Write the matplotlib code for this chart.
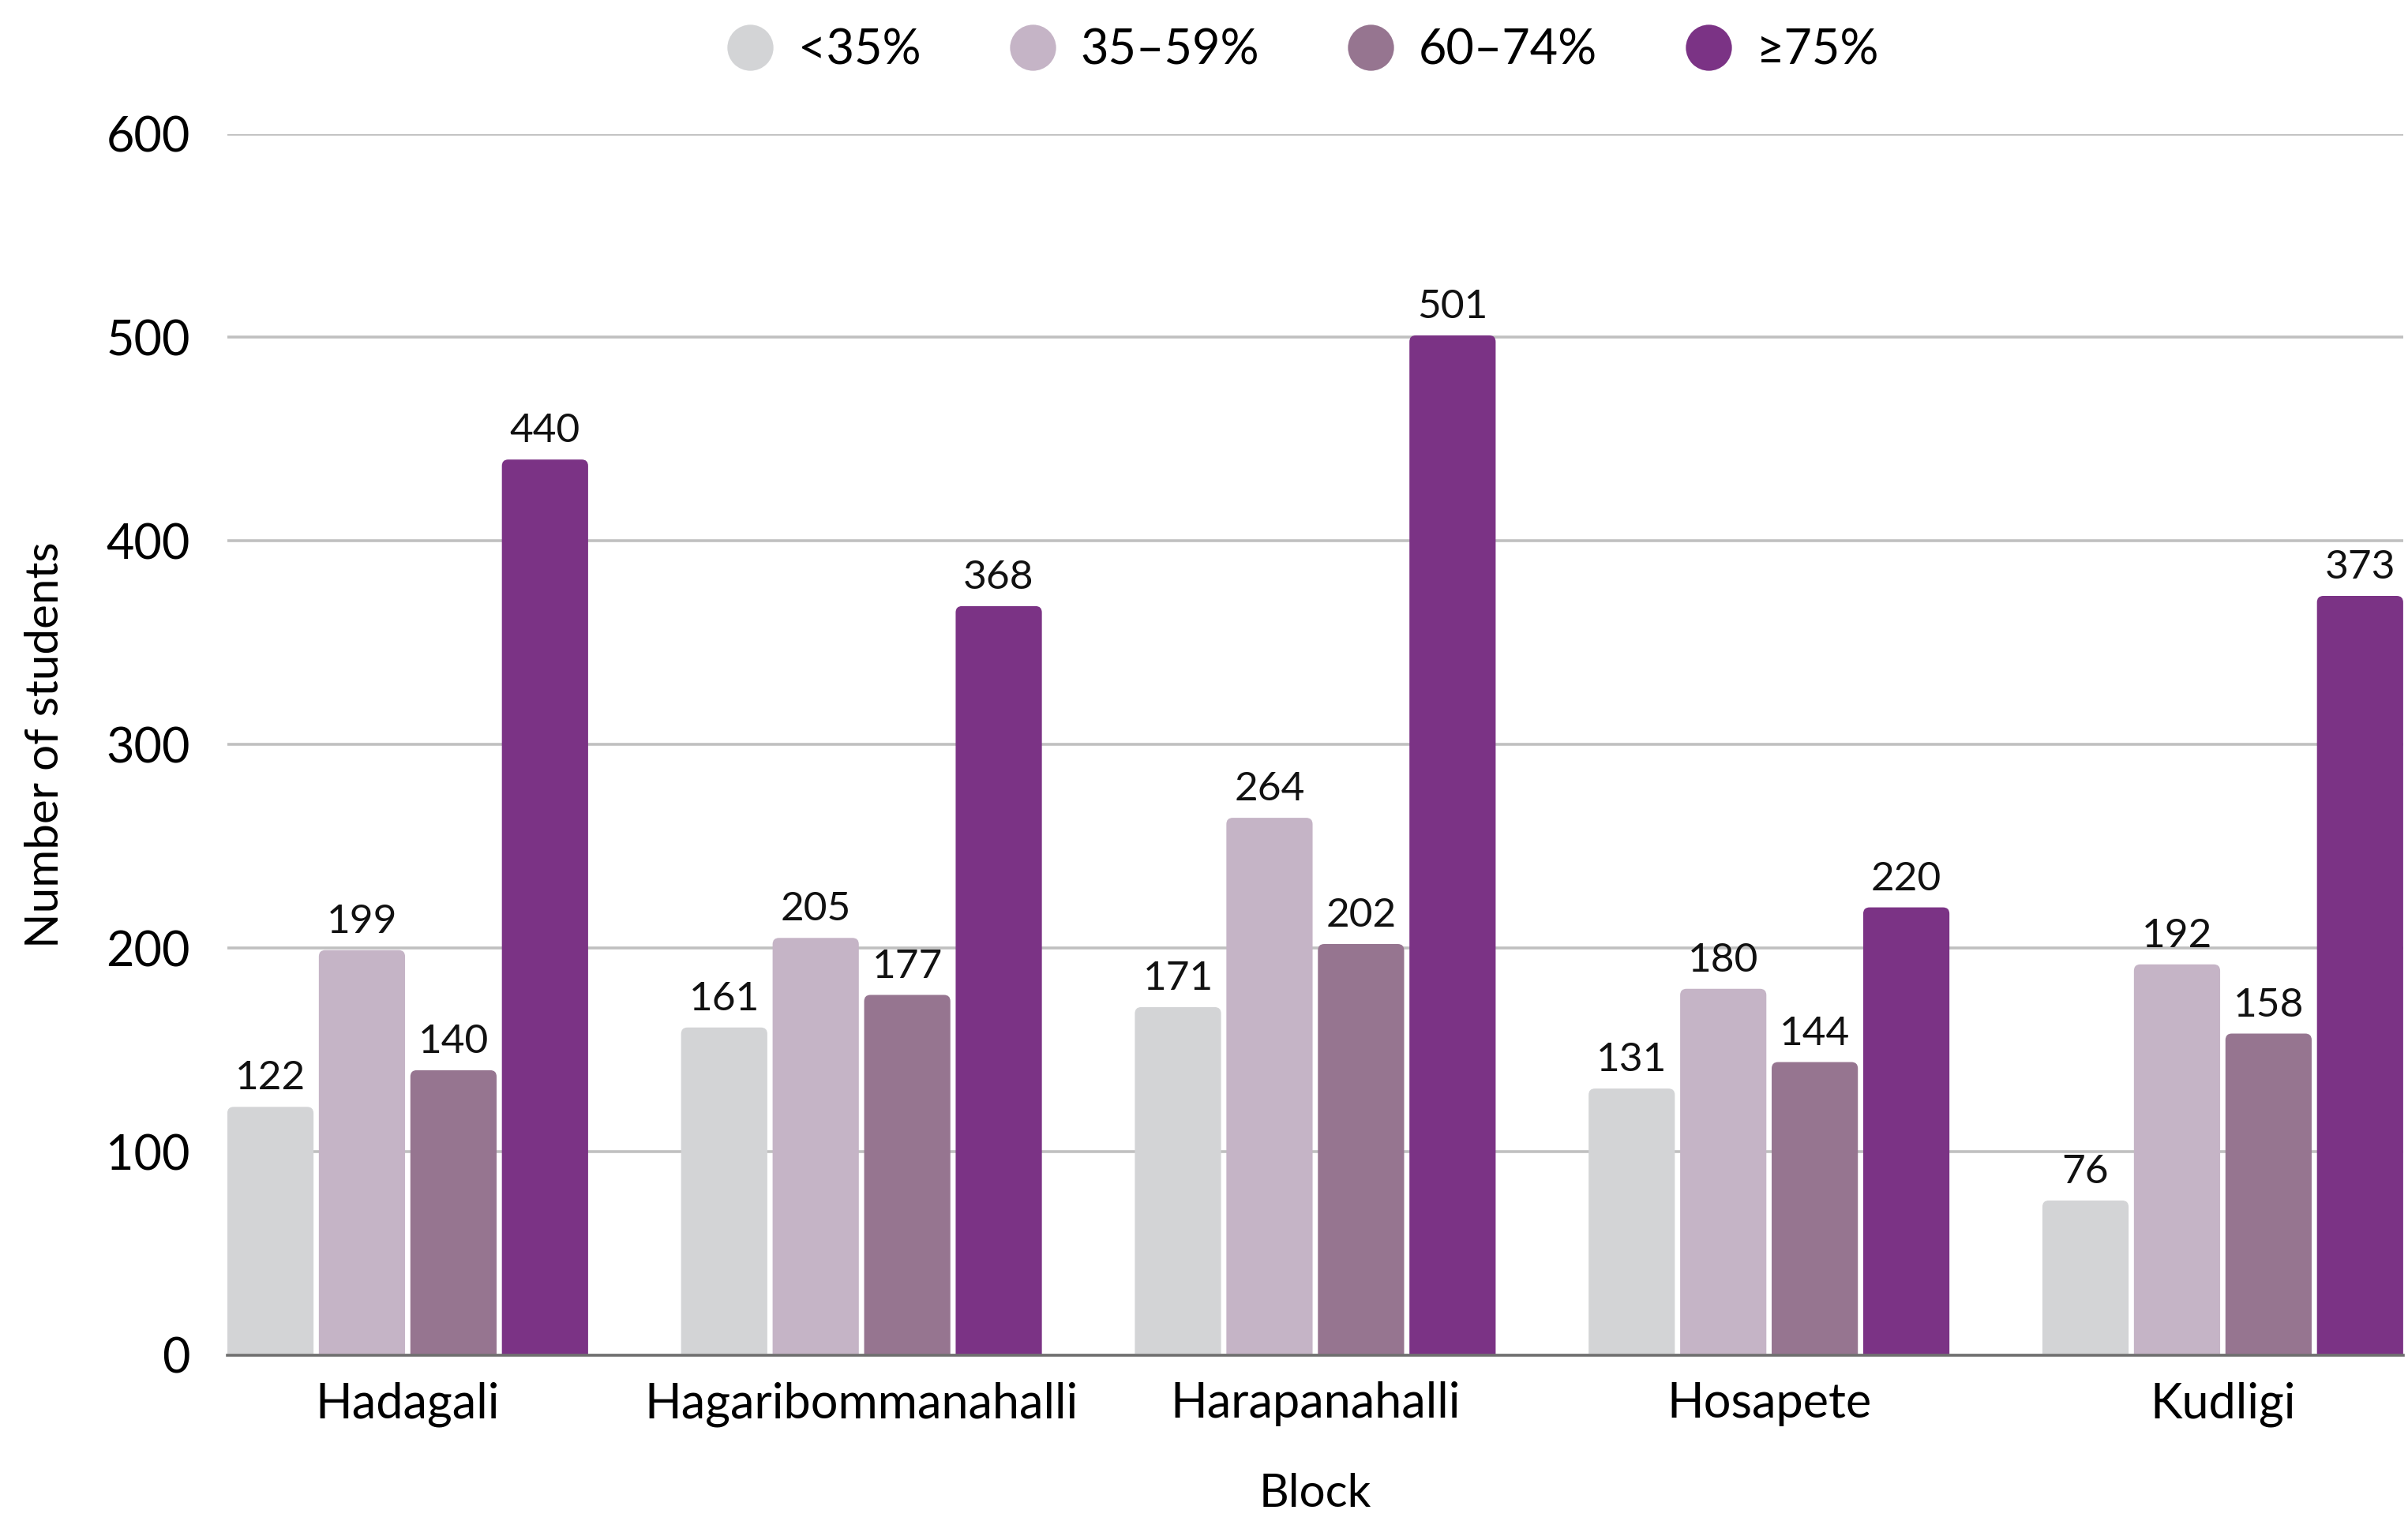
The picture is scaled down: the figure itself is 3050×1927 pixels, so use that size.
import matplotlib as mpl
import matplotlib.pyplot as plt
import numpy as np
from matplotlib.patches import FancyBboxPatch

mpl.rcParams['font.family'] = ['Lato', 'DejaVu Sans']

blocks = ['Hadagali', 'Hagaribommanahalli', 'Harapanahalli', 'Hosapete', 'Kudligi']
bands = ['<35%', '35–59%', '60–74%', '≥75%']
lt35 = [122, 161, 171, 131, 76]
b35_59 = [199, 205, 264, 180, 192]
b60_74 = [140, 177, 202, 144, 158]
ge75 = [440, 368, 501, 220, 373]
series = [lt35, b35_59, b60_74, ge75]
colors = ['#d3d4d6', '#c5b4c6', '#967590', '#7b3385']

fig = plt.figure(figsize=(15.25, 9.635), dpi=200)
ax = fig.add_axes([0.0944, 0.109, 0.9036, 0.803])

x = np.arange(len(blocks))
width = 0.19
step = 0.2017
offsets = (np.arange(4) - 1.5) * step

for vals, off, col, lab in zip(series, offsets, colors, bands):
    bars = ax.bar(x + off, vals, width, color=col, label=lab)
    for b in bars:
        b.set_visible(False)
        # rounded top corners, bottom pushed below axis so it gets clipped
        p = FancyBboxPatch((b.get_x(), -20), b.get_width(), b.get_height() + 20,
                           boxstyle='round,pad=0,rounding_size=0.014',
                           mutation_aspect=223, fc=col, ec='none', zorder=2)
        ax.add_patch(p)
        ax.text(b.get_x() + b.get_width() / 2, b.get_height() + 5, str(int(b.get_height())),
                ha='center', va='bottom', fontsize=18.5, color='#111111', zorder=3)

ax.set_xlim(x[0] + offsets[0] - width / 2, x[-1] + offsets[-1] + width / 2)
ax.set_ylim(0, 600)
ax.set_yticks([0, 100, 200, 300, 400, 500, 600])
ax.set_xticks(x)
ax.set_xticklabels(blocks)
ax.tick_params(axis='y', length=0, pad=17, labelsize=22)
ax.tick_params(axis='x', length=0, pad=12, labelsize=22)
ax.grid(axis='y', color='#c0c0c0', linewidth=1.3, zorder=0)
ax.set_axisbelow(True)
for s in ['top', 'right', 'left']:
    ax.spines[s].set_visible(False)
ax.spines['bottom'].set_color('#707070')
ax.spines['bottom'].set_linewidth(1.3)
ax.spines['bottom'].set_zorder(3)

ax.set_ylabel('Number of students', fontsize=21, labelpad=18)
ax.set_xlabel('Block', fontsize=21, labelpad=21)

handles = [plt.Line2D([], [], marker='o', linestyle='none', markersize=21,
                      markerfacecolor=c, markeredgecolor='none') for c in colors]
fig.legend(handles, bands, loc='center', bbox_to_anchor=(0.541, 0.967), ncol=4,
           frameon=False, fontsize=22, handlelength=1.0, handletextpad=0.5,
           columnspacing=1.8)

fig.savefig('out.png', dpi=200)
